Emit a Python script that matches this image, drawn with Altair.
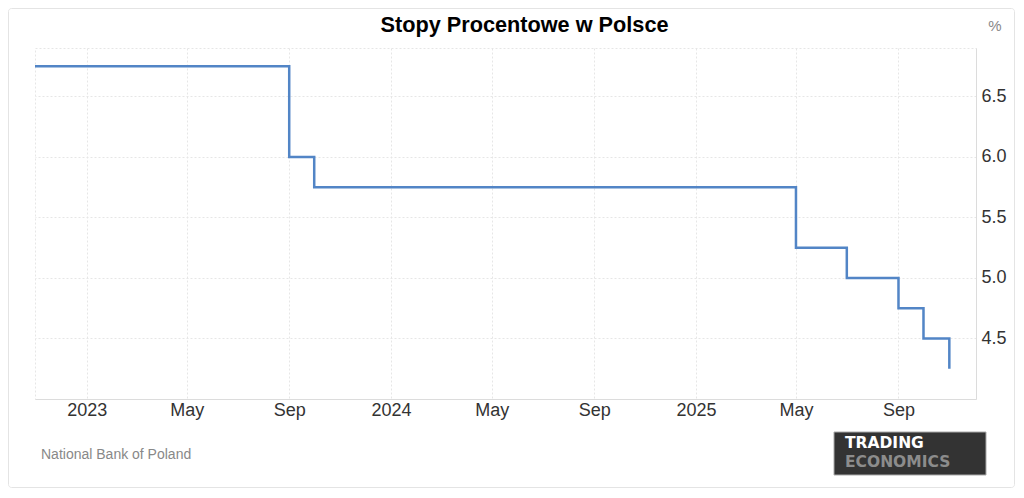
import altair as alt
import pandas as pd

# ---- data ----
dates = ["2022-10-31", "2023-09-01", "2023-10-01", "2025-05-01",
         "2025-07-01", "2025-09-01", "2025-10-01", "2025-11-01"]
rates = [6.75, 6.00, 5.75, 5.25, 5.00, 4.75, 4.50, 4.25]

tick_dates = ["2023-01-01", "2023-05-01", "2023-09-01",
              "2024-01-01", "2024-05-01", "2024-09-01",
              "2025-01-01", "2025-05-01", "2025-09-01"]
y_ticks = [4.5, 5.0, 5.5, 6.0, 6.5]
x_domain = ["2022-10-31", "2025-12-03"]
y_domain = [4.0, 6.9]

title_text = "Stopy Procentowe w Polsce"
unit_text = "%"
source_text = "National Bank of Poland"
logo_top = "TRADING"
logo_bottom = "ECONOMICS"

FONT = "Liberation Sans"


def dt(s):
    y, m, d = (int(p) for p in s.split("-"))
    return alt.DateTime(year=y, month=m, date=d, utc=True)


df = pd.DataFrame({"date": dates, "rate": rates})

line = alt.Chart(df).mark_line(
    interpolate="step-after", color="#5285c6", strokeWidth=2.5
).encode(
    x=alt.X("date:T",
            scale=alt.Scale(type="utc", domain=[dt(d) for d in x_domain]),
            axis=alt.Axis(
                values=[dt(d) for d in tick_dates],
                labelExpr="utcFormat(datum.value, '%m') == '01' ? utcFormat(datum.value, '%Y') : utcFormat(datum.value, '%b')",
                title=None, orient="bottom", ticks=False,
                labelFontSize=18, labelColor="#333333", labelFont=FONT,
                labelPadding=2, domainColor="#dcdcdc",
                grid=True, gridColor="#e6e6e6", gridDash=[2, 2],
                labelOverlap=False,
            )),
    y=alt.Y("rate:Q",
            scale=alt.Scale(domain=y_domain, nice=False, zero=False),
            axis=alt.Axis(
                values=y_ticks, format=".1f", title=None, orient="right",
                ticks=False, labelFontSize=18, labelColor="#333333",
                labelFont=FONT, labelPadding=5, domainColor="#dcdcdc",
                grid=True, gridColor="#e6e6e6", gridDash=[2, 2],
            )),
)

one = pd.DataFrame({"k": [0]})

border = alt.Chart(one).mark_rect(
    fill=None, stroke="#e4e4e4", strokeWidth=1, cornerRadius=3
).encode(
    x=alt.value(-26.5), x2=alt.value(979.5),
    y=alt.value(-39.5), y2=alt.value(439.5),
)

title = alt.Chart(pd.DataFrame({"t": [title_text]})).mark_text(
    font=FONT, fontSize=21.7, fontWeight="bold", color="#000000",
    align="center", baseline="alphabetic"
).encode(text="t:N", x=alt.value(489.5), y=alt.value(-16))

unit = alt.Chart(pd.DataFrame({"t": [unit_text]})).mark_text(
    font=FONT, fontSize=15, color="#888888",
    align="center", baseline="alphabetic"
).encode(text="t:N", x=alt.value(960), y=alt.value(-17))

source = alt.Chart(pd.DataFrame({"t": [source_text]})).mark_text(
    font=FONT, fontSize=14, color="#888888",
    align="left", baseline="alphabetic"
).encode(text="t:N", x=alt.value(6), y=alt.value(411))

logo_box = alt.Chart(one).mark_rect(
    fill="#333333", stroke="#aaaaaa", strokeWidth=1
).encode(
    x=alt.value(799), x2=alt.value(951),
    y=alt.value(384), y2=alt.value(427),
)

logo1 = alt.Chart(pd.DataFrame({"t": [logo_top]})).mark_text(
    font="DejaVu Sans", fontSize=15.5, fontWeight="bold", color="#ffffff",
    align="left", baseline="alphabetic"
).encode(text="t:N", x=alt.value(810), y=alt.value(400))

logo2 = alt.Chart(pd.DataFrame({"t": [logo_bottom]})).mark_text(
    font="DejaVu Sans", fontSize=15.5, fontWeight="bold", color="#8c8c8c",
    align="left", baseline="alphabetic"
).encode(text="t:N", x=alt.value(810), y=alt.value(418.5))

chart = alt.layer(
    border, line, title, unit, source, logo_box, logo1, logo2
).properties(
    width=941, height=351,
    padding={"left": 27, "top": 40, "right": 39, "bottom": 89},
    autosize=alt.AutoSizeParams(type="none"),
    background="#ffffff",
).configure_view(
    stroke="#e6e6e6", strokeDash=[2, 2]
)

chart.save("out.html", embed_options={"renderer": "svg", "actions": False})
